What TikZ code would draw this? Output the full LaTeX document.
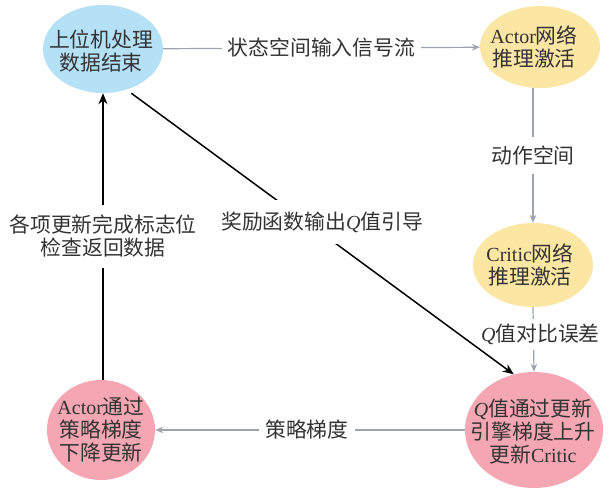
\documentclass[tikz,border=0pt]{standalone}
\usepackage{fontspec}
\setmainfont{Noto Sans CJK SC}
\newfontfamily\lat[Scale=0.96]{Liberation Serif}
\usetikzlibrary{shapes.geometric,arrows.meta}
\definecolor{nodeblue}{HTML}{B4E1F5}
\definecolor{nodeyellow}{HTML}{FCE6A4}
\definecolor{nodepink}{HTML}{F4A7B2}
\definecolor{arrowgray}{HTML}{9CA5AE}
\definecolor{txt}{HTML}{333333}
\newcommand{\Lt}[1]{{\lat #1}}
\newcommand{\Qv}{{\lat\itshape Q}}
\begin{document}
\begin{tikzpicture}[x=1pt,y=-1pt,
  every node/.style={font=\fontsize{20.8}{23}\selectfont, text=txt},
  state/.style={ellipse, inner sep=0pt, draw=none},
  stxt/.style={align=center, inner sep=0pt},
  grayedge/.style={draw=arrowgray, line width=1.2pt, -{Stealth[length=8pt,width=6.5pt]}},
  blackedge/.style={draw=black, line width=1.5pt, -{Stealth[length=11pt,width=9pt]}},
  lbl/.style={fill=white, inner xsep=6pt, inner ysep=9pt, align=center}]
\useasboundingbox (0,0) rectangle (615,489);
% ellipses
\node[state, fill=nodeblue,   minimum width=120pt, minimum height=88pt]  (A) at (103,49) {};
\node[state, fill=nodeyellow, minimum width=120pt, minimum height=82pt]  (B) at (540,47) {};
\node[state, fill=nodeyellow, minimum width=120pt, minimum height=84pt]  (C) at (533,265) {};
\node[state, fill=nodepink,   minimum width=138pt, minimum height=116pt] (D) at (534,430) {};
\node[state, fill=nodepink,   minimum width=108pt, minimum height=100pt] (E) at (101,430) {};
% connectors
\draw[grayedge] (A) -- node[lbl, pos=0.5] (l1) {状态空间输入信号流} (B);
\draw[grayedge] (B.south -| C.north) -- node[lbl, pos=0.5] (l2) {动作空间} (C.north);
\draw[grayedge] (C.south) -- node[lbl, pos=0.42, xshift=7pt, inner ysep=5pt] (l3) {\Qv 值对比误差} (D.north);
\draw[grayedge] (D) -- node[lbl, pos=0.51] (l4) {策略梯度} (E);
\draw[blackedge] (A.south |- E.north) -- node[lbl, pos=0.5, inner ysep=10pt] (l5) {各项更新完成标志位\\检查返回数据} (A.south);
\draw[blackedge, shorten <=6pt] (A.-60) -- node[lbl, pos=0.5, xshift=2pt, yshift=10pt, inner ysep=12pt] (l6) {奖励函数输出\Qv 值引导} (D.110);
% texts
\node[stxt] (At) at (101,51) {上位机处理\\数据结束};
\node[stxt] (Bt) at (534,47) {\Lt{Actor}网络\\推理激活};
\node[stxt] (Ct) at (530,265) {\Lt{Critic}网络\\推理激活};
\node[stxt] (Dt) at (533,432) {\Qv 值通过更新\\引擎梯度上升\\更新\Lt{Critic}};
\node[stxt] (Et) at (101,430) {\Lt{Actor}通过\\策略梯度\\下降更新};
\end{tikzpicture}
\end{document}
